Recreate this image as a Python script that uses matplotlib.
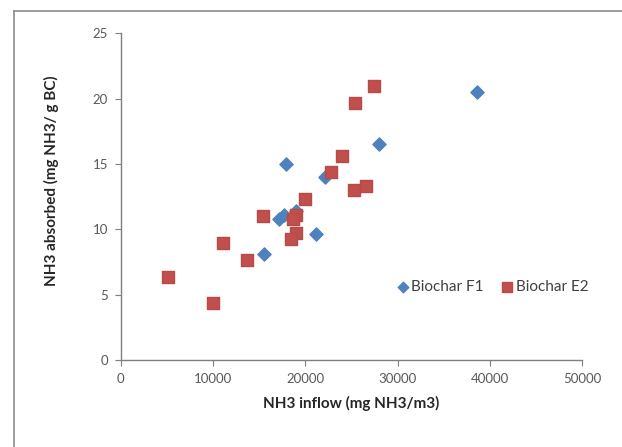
import numpy as np
import matplotlib.pyplot as plt
from matplotlib.lines import Line2D

# Biochar F1 (blue diamonds)
f1_inflow = [38600, 28000, 17900, 22100, 19000, 17650, 17200, 21150, 15500]
f1_absorbed = [20.5, 16.5, 15.0, 14.0, 11.45, 11.1, 10.8, 9.65, 8.1]

# Biochar E2 (red squares)
e2_inflow = [27450, 25350, 24000, 22800, 25300, 26600, 20000, 15400, 18950, 18650,
             19000, 18400, 11050, 13650, 5150, 10000]
e2_absorbed = [21.0, 19.7, 15.6, 14.4, 13.05, 13.35, 12.35, 11.05, 11.1, 10.8,
               9.7, 9.3, 9.0, 7.7, 6.35, 4.35]

plt.rcParams['font.family'] = ['Lato', 'DejaVu Sans']

fig = plt.figure(figsize=(6.22, 4.47), dpi=100)
ax = fig.add_axes([0.194, 0.194, 0.742, 0.7315])

ax.scatter(f1_inflow, f1_absorbed, marker='D', s=45, color='#4F81BD',
           edgecolors='#4F81BD', label='Biochar F1', zorder=3)
ax.scatter(e2_inflow, e2_absorbed, marker='s', s=75, color='#C0504D',
           edgecolors='#B84A47', label='Biochar E2', zorder=3)

ax.set_xlim(0, 50000)
ax.set_ylim(0, 25)
ax.set_xticks(np.arange(0, 50001, 10000))
ax.set_yticks(np.arange(0, 26, 5))

for s in ['top', 'right']:
    ax.spines[s].set_visible(False)
for s in ['left', 'bottom']:
    ax.spines[s].set_color('#7f7f7f')
    ax.spines[s].set_linewidth(1.0)

ax.tick_params(axis='x', direction='out', length=4, color='#7f7f7f',
               labelsize=9.5, labelcolor='#595959', pad=5)
ax.tick_params(axis='y', direction='out', length=4, color='#7f7f7f',
               labelsize=9.5, labelcolor='#595959', pad=5)

ax.set_xlabel('NH3 inflow (mg NH3/m3)', fontsize=11, fontweight='bold', color='#262626')
ax.set_ylabel('NH3 absorbed (mg NH3/ g BC)', fontsize=11, fontweight='bold', color='#262626')
ax.xaxis.set_label_coords(0.5, -0.11)
ax.yaxis.set_label_coords(-0.134, 0.548)

leg = ax.legend(loc='center left', bbox_to_anchor=(0.581, 0.224), ncol=2, frameon=False,
                fontsize=11, handletextpad=0.05, columnspacing=1.05, markerscale=0.8,
                handlelength=1.0, borderaxespad=0)
for t in leg.get_texts():
    t.set_color('#404040')

# outer chart frame (partly cropped in the reference)
fig.add_artist(Line2D([14 / 622, 1.0], [1 - 11 / 447, 1 - 11 / 447],
                      color='#8c8c8c', lw=1.2, transform=fig.transFigure))
fig.add_artist(Line2D([14 / 622, 14 / 622], [0.0, 1 - 11 / 447],
                      color='#8c8c8c', lw=1.2, transform=fig.transFigure))

fig.savefig('out.png', dpi=100)
